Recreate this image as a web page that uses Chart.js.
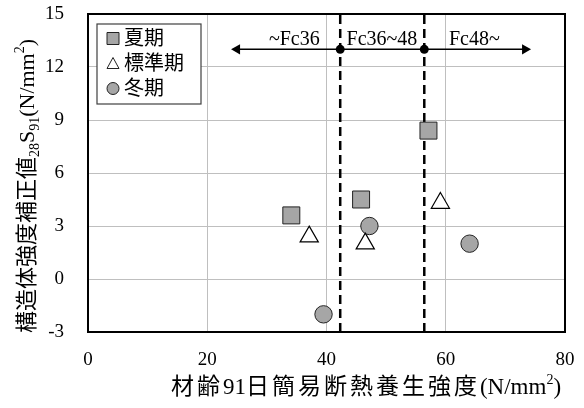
<!DOCTYPE html>
<html>
<head>
<meta charset="utf-8">
<script src="https://cdn.jsdelivr.net/npm/chart.js@4"></script>
<style>
html, body { margin: 0; padding: 0; background: #fff; }
#wrap { width: 584px; height: 408px; }
</style>
</head>
<body>
<div id="wrap"><canvas id="myChart"></canvas></div>
<script>
var seasons = ['夏期', '標準期', '冬期'];
var summerX = [34.1, 45.8, 57.1];
var summerY = [3.6, 4.5, 8.4];
var standardX = [37.1, 46.5, 59.1];
var standardY = [2.4, 2.0, 4.3];
var winterX = [39.5, 47.2, 64.0];
var winterY = [-2.0, 3.0, 2.0];
var boundaryX = [42.3, 56.4];
var boundaryY = [-3, 15];
var arrowX = [25.0, 42.3, 56.4, 73.3];
var arrowY = 13;
var rangeLabels = ['~Fc36', 'Fc36~48', 'Fc48~'];
var rangeLabelX = [34.6, 49.3, 64.8];
var xTicks = [0, 20, 40, 60, 80];
var yTicks = [-3, 0, 3, 6, 9, 12, 15];

var SERIF = "'Liberation Serif', 'Times New Roman', 'Noto Sans CJK JP', serif";
var GRAY = '#a6a6a6';

function pts(xs, ys) {
  return xs.map(function (x, i) { return {x: x, y: ys[i]}; });
}

// draws a line of text made of parts with their own size / baseline shift / spacing
function drawRich(ctx, parts, cx, cy, angle) {
  ctx.save();
  ctx.translate(cx, cy);
  ctx.rotate(angle);
  var total = 0;
  parts.forEach(function (p) {
    ctx.font = p.size + 'px ' + SERIF;
    ctx.letterSpacing = (p.sp || 0) + 'px';
    p.w = ctx.measureText(p.t).width;
    total += p.w;
  });
  var x = -total / 2;
  ctx.textAlign = 'left';
  ctx.textBaseline = 'alphabetic';
  ctx.fillStyle = '#000';
  parts.forEach(function (p) {
    ctx.font = p.size + 'px ' + SERIF;
    ctx.letterSpacing = (p.sp || 0) + 'px';
    ctx.fillText(p.t, x, p.dy);
    x += p.w;
  });
  ctx.restore();
}

function marker(ctx, style, x, y, s) {
  ctx.beginPath();
  if (style === 'rect') {
    ctx.rect(x - s / 2, y - s / 2, s, s);
    ctx.fillStyle = GRAY;
  } else if (style === 'triangle') {
    ctx.moveTo(x, y - s / 2);
    ctx.lineTo(x + s / 2, y + s / 2 - 1);
    ctx.lineTo(x - s / 2, y + s / 2 - 1);
    ctx.closePath();
    ctx.fillStyle = '#fff';
  } else {
    ctx.arc(x, y, s / 2, 0, Math.PI * 2);
    ctx.fillStyle = GRAY;
  }
  ctx.fill();
  ctx.strokeStyle = '#222';
  ctx.lineWidth = 1;
  ctx.stroke();
}

var decor = {
  id: 'decor',
  beforeDatasetsDraw: function (chart) {
    var a = chart.chartArea, ctx = chart.ctx;
    ctx.save();
    ctx.strokeStyle = '#000';
    ctx.lineWidth = 2;
    ctx.strokeRect(a.left, a.top, a.right - a.left, a.bottom - a.top);
    ctx.restore();
  },
  afterDatasetsDraw: function (chart) {
    var ctx = chart.ctx, xs = chart.scales.x, ys = chart.scales.y;
    ctx.save();
    ctx.font = '20px ' + SERIF;
    ctx.fillStyle = '#000';
    ctx.textAlign = 'center';
    ctx.textBaseline = 'alphabetic';
    rangeLabels.forEach(function (t, i) {
      ctx.fillText(t, xs.getPixelForValue(rangeLabelX[i]), ys.getPixelForValue(arrowY) - 4);
    });

    // legend box
    ctx.fillStyle = '#fff';
    ctx.fillRect(97, 24, 104, 80);
    ctx.strokeStyle = '#404040';
    ctx.lineWidth = 1.2;
    ctx.strokeRect(97, 24, 104, 80);
    var styles = ['rect', 'triangle', 'circle'];
    seasons.forEach(function (s, i) {
      var y = 38.5 + i * 25;
      marker(ctx, styles[i], 113, y, 12);
      ctx.font = '20px ' + SERIF;
      ctx.fillStyle = '#000';
      ctx.textAlign = 'left';
      ctx.textBaseline = 'middle';
      ctx.fillText(s, 124, y + 1);
    });
    ctx.restore();

    // axis titles
    drawRich(ctx, [
      {t: '構造体強度補正値', size: 22, dy: 8},
      {t: '28', size: 14, dy: 13},
      {t: 'S', size: 22, dy: 8},
      {t: '91', size: 14, dy: 13},
      {t: '(N/mm', size: 22, dy: 8},
      {t: '2', size: 14, dy: -2},
      {t: ')', size: 22, dy: 8}
    ], 26, 186, -Math.PI / 2);
    drawRich(ctx, [
      {t: '材齢', size: 23, dy: 0, sp: 3},
      {t: '91', size: 23, dy: 0},
      {t: '日簡易断熱養生強度', size: 23, dy: 0, sp: 3},
      {t: '(N/mm', size: 23, dy: 0},
      {t: '2', size: 14, dy: -10},
      {t: ')', size: 23, dy: 0}
    ], 366, 394, 0);
  }
};

var ctx = document.getElementById('myChart').getContext('2d');
var myChart = new Chart(ctx, {
  type: 'scatter',
  data: {
    datasets: [{
      label: seasons[0],
      data: pts(summerX, summerY),
      pointStyle: 'rect',
      pointRadius: 12,
      backgroundColor: GRAY,
      borderColor: '#222',
      borderWidth: 1
    }, {
      label: seasons[1],
      data: pts(standardX, standardY),
      pointStyle: 'triangle',
      pointRadius: 10.5,
      backgroundColor: '#fff',
      borderColor: '#000',
      borderWidth: 1.2
    }, {
      label: seasons[2],
      data: pts(winterX, winterY),
      pointStyle: 'circle',
      pointRadius: 8.7,
      backgroundColor: GRAY,
      borderColor: '#222',
      borderWidth: 1
    }, {
      type: 'line',
      data: pts([boundaryX[0], boundaryX[0]], boundaryY),
      borderColor: '#000',
      borderWidth: 2.5,
      borderDash: [9, 5],
      pointRadius: 0
    }, {
      type: 'line',
      data: pts([boundaryX[1], boundaryX[1]], boundaryY),
      borderColor: '#000',
      borderWidth: 2.5,
      borderDash: [9, 5],
      pointRadius: 0
    }, {
      type: 'line',
      data: pts(arrowX, arrowX.map(function () { return arrowY; })),
      borderColor: '#000',
      borderWidth: 1.5,
      pointStyle: ['triangle', 'circle', 'circle', 'triangle'],
      pointRotation: [-90, 0, 0, 90],
      pointRadius: [6, 4.5, 4.5, 6],
      pointBackgroundColor: '#000',
      pointBorderColor: '#000',
      pointBorderWidth: 0
    }]
  },
  options: {
    responsive: true,
    maintainAspectRatio: false,
    animation: false,
    layout: { padding: { top: 14, right: 19, left: 0, bottom: 0 } },
    plugins: {
      legend: { display: false },
      tooltip: { enabled: false }
    },
    scales: {
      x: {
        min: xTicks[0],
        max: xTicks[xTicks.length - 1],
        afterFit: function (s) {
          s.height = 76;
          s.paddingLeft = 0;
          s.paddingRight = 0;
        },
        ticks: {
          stepSize: xTicks[1] - xTicks[0],
          color: '#000',
          padding: 17,
          font: { family: SERIF, size: 19 }
        },
        grid: { color: '#bfbfbf', lineWidth: 1, drawTicks: false },
        border: { display: false }
      },
      y: {
        min: yTicks[0],
        max: yTicks[yTicks.length - 1],
        afterFit: function (s) {
          s.width = 88;
          s.paddingTop = 0;
          s.paddingBottom = 0;
        },
        ticks: {
          stepSize: yTicks[1] - yTicks[0],
          color: '#000',
          padding: 24,
          font: { family: SERIF, size: 19 }
        },
        grid: { color: '#bfbfbf', lineWidth: 1, drawTicks: false },
        border: { display: false }
      }
    }
  },
  plugins: [decor]
});
</script>
</body>
</html>
